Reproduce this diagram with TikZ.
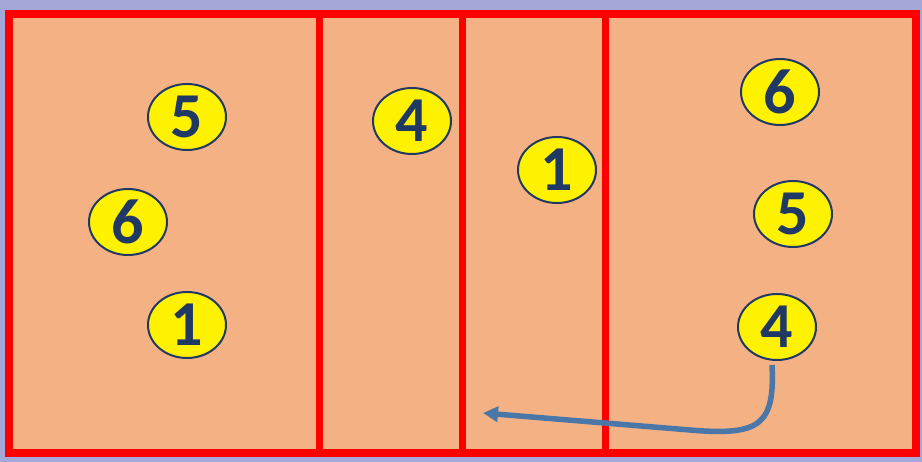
\documentclass[tikz,border=0pt]{standalone}
\usepackage{fontspec}
\setmainfont{Carlito}
\usepackage{tikz}
\usetikzlibrary{arrows.meta,shapes.geometric}
\definecolor{band}{HTML}{A3A8D8}
\definecolor{floor}{HTML}{F4B183}
\definecolor{navy}{HTML}{1F3864}
\definecolor{pathblue}{HTML}{4A76A8}

\begin{document}
\begin{tikzpicture}[x=1pt,y=-1pt,
  player/.style={ellipse,draw=navy,line width=2pt,fill=yellow,
    minimum width=78pt,minimum height=66pt,inner sep=0pt,
    text=navy,font=\fontsize{64}{64}\selectfont\bfseries},
  move/.style={pathblue,line width=5.5pt,-{Triangle[length=15pt,width=15pt]}}]
\fill[band] (0,0) rectangle (922,462);
\draw[red,line width=8pt,fill=floor] (9,14) rectangle (916,453);
\draw[red,line width=7pt] (319,14) -- (319,453);
\draw[red,line width=7pt] (462,14) -- (462,453);
\draw[red,line width=7pt] (605,14) -- (605,453);
% left side
\node[player] (l5) at (187,117) {5};
\node[player] (l6) at (128,222) {6};
\node[player] (l1) at (187,325) {1};
\node[player] (l4) at (412,121) {4};
% right side
\node[player] (r1) at (557,170) {1};
\node[player] (r6) at (780,92) {6};
\node[player] (r5) at (793,214) {5};
\node[player] (r4) at (777,327) {4};
\coordinate (tgt) at (483,413);
\draw[move] ([xshift=-5pt,yshift=-4pt]r4.south) .. controls (775,425) and (760,436) .. (690,430) -- (tgt);
\end{tikzpicture}
\end{document}
